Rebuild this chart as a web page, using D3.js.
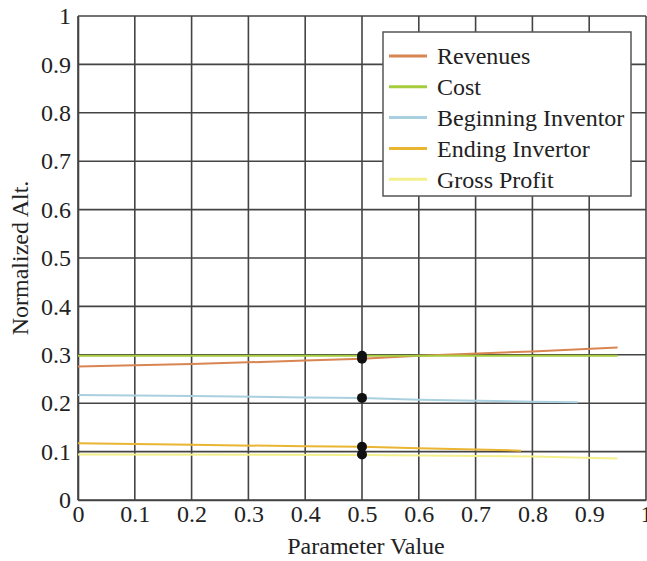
<!DOCTYPE html>
<html>
<head>
<meta charset="utf-8">
<script src="https://cdn.jsdelivr.net/npm/d3@7"></script>
<style>
  body { margin: 0; background: #fff; }
  text { font-family: "Liberation Serif", "Times New Roman", serif; fill: #222; }
</style>
</head>
<body>
<div id="chart"></div>
<script>
// series names and colours
const seriesNames = ["Revenues", "Cost", "Beginning Inventor", "Ending Invertor", "Gross Profit"];
const seriesColors = ["#d98552", "#a5cc3c", "#a9d0df", "#e9b532", "#f3f08c"];

// points, one pair of lists per series
const revenuesX = [0, 0.2, 0.4, 0.5, 0.6, 0.8, 0.95];
const revenuesY = [0.276, 0.281, 0.288, 0.292, 0.298, 0.307, 0.315];
const costX = [0, 0.5, 0.95];
const costY = [0.298, 0.298, 0.298];
const beginX = [0, 0.2, 0.4, 0.5, 0.6, 0.8, 0.88];
const beginY = [0.217, 0.215, 0.212, 0.211, 0.207, 0.203, 0.202];
const endingX = [0, 0.2, 0.4, 0.5, 0.6, 0.78];
const endingY = [0.117, 0.114, 0.111, 0.11, 0.107, 0.102];
const grossX = [0, 0.5, 0.8, 0.95];
const grossY = [0.094, 0.093, 0.09, 0.086];

// highlighted points at parameter value 0.5
const markerX = [0.5, 0.5, 0.5, 0.5, 0.5];
const markerY = [0.292, 0.298, 0.211, 0.11, 0.094];

const xTicks = [0, 0.1, 0.2, 0.3, 0.4, 0.5, 0.6, 0.7, 0.8, 0.9, 1];
const yTicks = [0, 0.1, 0.2, 0.3, 0.4, 0.5, 0.6, 0.7, 0.8, 0.9, 1];

const width = 647, height = 561;
const margin = { top: 16, right: 1, bottom: 61, left: 78 };
const fontSize = 24;

const series = [
  { x: revenuesX, y: revenuesY },
  { x: costX, y: costY },
  { x: beginX, y: beginY },
  { x: endingX, y: endingY },
  { x: grossX, y: grossY }
].map((s, i) => ({ name: seriesNames[i], color: seriesColors[i], pts: s.x.map((v, j) => [v, s.y[j]]) }));

const x = d3.scaleLinear().domain([0, 1]).range([margin.left, width - margin.right]);
const y = d3.scaleLinear().domain([0, 1]).range([height - margin.bottom, margin.top]);

const svg = d3.create("svg").attr("width", width).attr("height", height);

// grid
svg.append("g")
  .selectAll("line")
  .data(xTicks)
  .join("line")
  .attr("x1", d => x(d)).attr("x2", d => x(d))
  .attr("y1", y(0)).attr("y2", y(1))
  .attr("stroke", "#444").attr("stroke-width", 1.6);

svg.append("g")
  .selectAll("line")
  .data(yTicks)
  .join("line")
  .attr("x1", x(0)).attr("x2", x(1))
  .attr("y1", d => y(d)).attr("y2", d => y(d))
  .attr("stroke", "#444").attr("stroke-width", 1.6);

// axes
const xAxis = svg.append("g")
  .attr("transform", `translate(0,${y(0)})`)
  .call(d3.axisBottom(x).tickValues(xTicks).tickFormat(d3.format("")).tickSize(0).tickPadding(5));
xAxis.select(".domain").attr("stroke", "#444").attr("stroke-width", 1.6);
xAxis.selectAll("text").attr("font-size", fontSize).attr("font-family", "Liberation Serif").attr("fill", "#222");

const yAxis = svg.append("g")
  .attr("transform", `translate(${x(0)},0)`)
  .call(d3.axisLeft(y).tickValues(yTicks).tickFormat(d3.format("")).tickSize(0).tickPadding(7));
yAxis.select(".domain").attr("stroke", "#444").attr("stroke-width", 1.6);
yAxis.selectAll("text").attr("font-size", fontSize).attr("font-family", "Liberation Serif").attr("fill", "#222");

// lines
const line = d3.line().x(d => x(d[0])).y(d => y(d[1]));
svg.append("g")
  .selectAll("path")
  .data(series)
  .join("path")
  .attr("d", d => line(d.pts))
  .attr("fill", "none")
  .attr("stroke", d => d.color)
  .attr("stroke-width", 2);

// markers
svg.append("g")
  .selectAll("circle")
  .data(markerX.map((v, i) => [v, markerY[i]]))
  .join("circle")
  .attr("cx", d => x(d[0]))
  .attr("cy", d => y(d[1]))
  .attr("r", 5)
  .attr("fill", "#111");

// axis titles
svg.append("text")
  .attr("x", 366)
  .attr("y", 554)
  .attr("text-anchor", "middle")
  .attr("font-size", 24)
  .text("Parameter Value");

svg.append("text")
  .attr("transform", `translate(28,${(y(0) + y(1)) / 2}) rotate(-90)`)
  .attr("text-anchor", "middle")
  .attr("font-size", 24)
  .text("Normalized Alt.");

// legend
const legend = svg.append("g").attr("transform", "translate(383,32)");
legend.append("rect")
  .attr("width", 248).attr("height", 164)
  .attr("fill", "#fff").attr("stroke", "#555").attr("stroke-width", 1.5);

const item = legend.selectAll("g")
  .data(series)
  .join("g")
  .attr("transform", (d, i) => `translate(0,${24 + i * 30.8})`);
item.append("line")
  .attr("x1", 6).attr("x2", 44)
  .attr("stroke", d => d.color).attr("stroke-width", 3);
item.append("text")
  .attr("x", 54).attr("dy", "0.35em")
  .attr("font-size", fontSize)
  .text(d => d.name);

d3.select("#chart").node().append(svg.node());
</script>
</body>
</html>
